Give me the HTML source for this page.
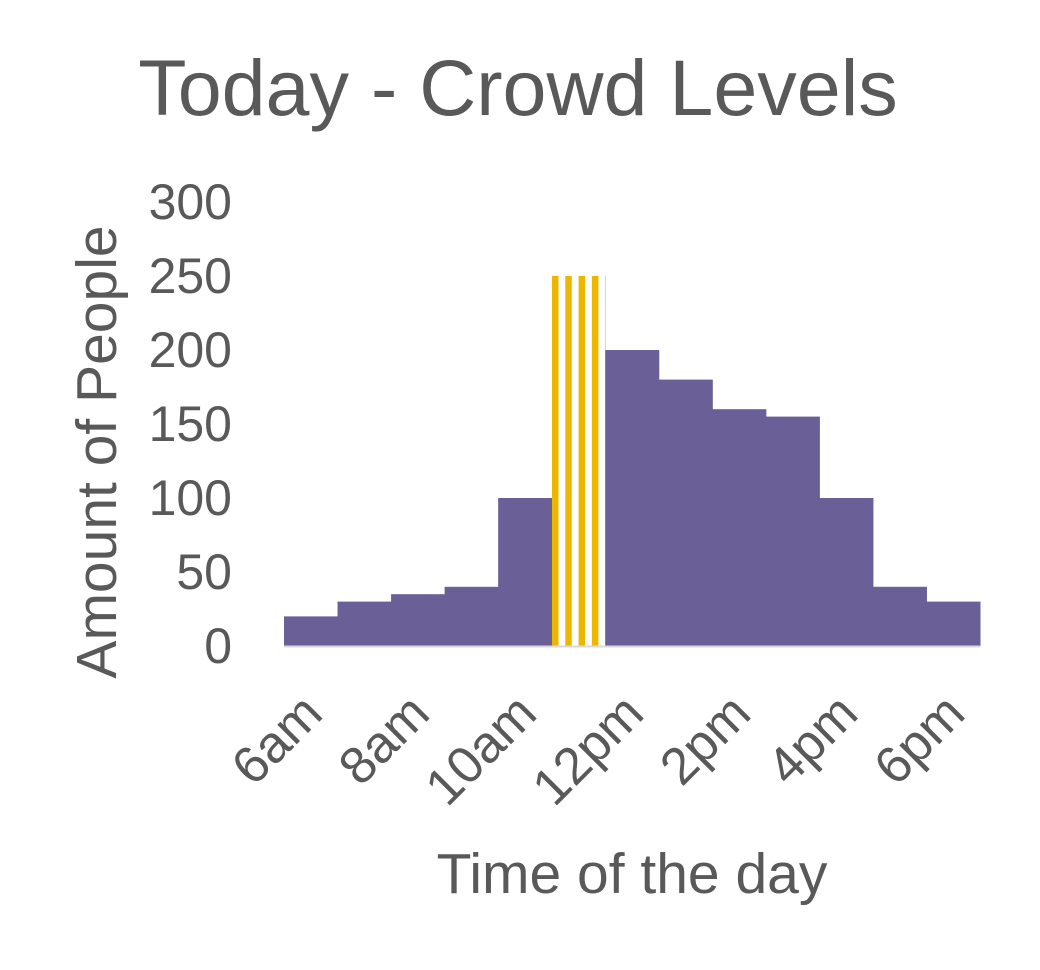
<!DOCTYPE html>
<html><head><meta charset="utf-8">
<style>
html,body{margin:0;padding:0;background:#fff;}
svg{display:block;font-family:"Liberation Sans",sans-serif;}
</style></head>
<body>
<svg id="chart" width="1040" height="970" viewBox="0 0 1040 970">
<defs>
<pattern id="stripes" patternUnits="userSpaceOnUse" x="552" y="0" width="13.3" height="10">
<rect x="0" y="0" width="6.5" height="10" fill="#EDB700"/>
</pattern>
</defs>
<text x="518" y="115" font-size="79" fill="#595959" text-anchor="middle">Today - Crowd Levels</text>
<text transform="translate(116,452) rotate(-90)" font-size="57" fill="#595959" text-anchor="middle">Amount of People</text>
<text x="632" y="893" font-size="57" fill="#595959" text-anchor="middle">Time of the day</text>
<g id="yticks"></g>
<g id="bars"></g>
<line x1="284" y1="646.5" x2="980" y2="646.5" stroke="#d9d9d9" stroke-width="2"/>
<g id="xticks"></g>
</svg>
<script>
const categories = ["6am","7am","8am","9am","10am","11am","12pm","1pm","2pm","3pm","4pm","5pm","6pm"];
const values = [20,30,35,40,100,250,200,180,160,155,100,40,30];
const highlighted = [false,false,false,false,false,true,false,false,false,false,false,false,false];
const yTicks = [0,50,100,150,200,250,300];
const xLabels = ["6am","","8am","","10am","","12pm","","2pm","","4pm","","6pm"];

const NS = "http://www.w3.org/2000/svg";
const x0 = 284, x1 = 980, yBase = 646, yTop = 202, yMax = 300;
const bw = (x1 - x0) / categories.length;
const xPos = i => x0 + i * bw;
const yPos = v => yBase - (v / yMax) * (yBase - yTop);

const yg = document.getElementById('yticks');
yTicks.forEach(t => {
  const el = document.createElementNS(NS, 'text');
  el.setAttribute('x', 232); el.setAttribute('y', yPos(t) + 17);
  el.setAttribute('font-size', '50'); el.setAttribute('fill', '#595959');
  el.setAttribute('text-anchor', 'end');
  el.textContent = t;
  
  
  yg.appendChild(el);
});

const bg = document.getElementById('bars');
values.forEach((v, i) => {
  const r = document.createElementNS(NS, 'rect');
  r.setAttribute('x', xPos(i)); r.setAttribute('y', yPos(v));
  r.setAttribute('width', bw + 0.5); r.setAttribute('height', yBase - yPos(v));
  r.setAttribute('fill', highlighted[i] ? 'url(#stripes)' : '#6A5F96');
  
  
  bg.appendChild(r);
});

const xg = document.getElementById('xticks');
xLabels.forEach((l, i) => {
  if (!l) return;
  const cx = xPos(i) + bw / 2 - 12, cy = 690;
  const el = document.createElementNS(NS, 'text');
  el.setAttribute('transform', 'translate(' + cx + ',' + cy + ') rotate(-45)');
  el.setAttribute('font-size', '52'); el.setAttribute('fill', '#595959');
  el.setAttribute('text-anchor', 'end');
  el.setAttribute('dy', '37');
  el.textContent = l;
  
  
  xg.appendChild(el);
});
</script>
</body></html>
